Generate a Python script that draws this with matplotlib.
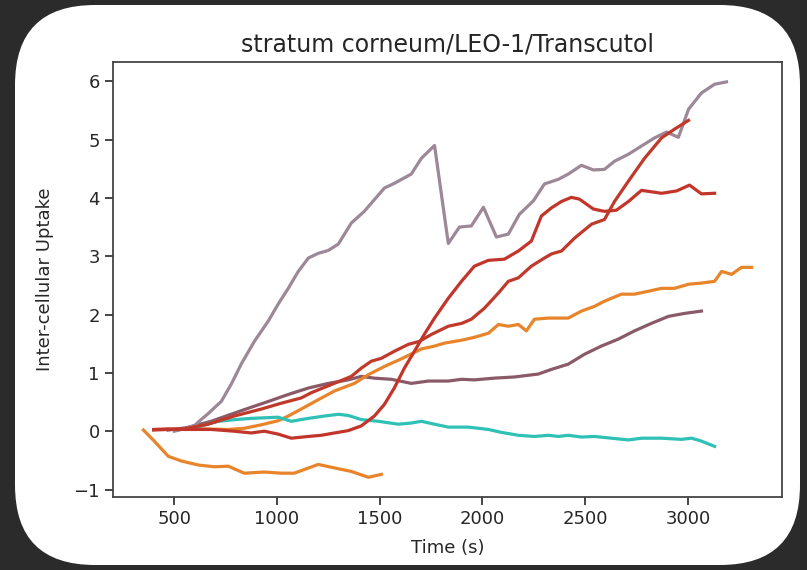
import matplotlib
matplotlib.use("Agg")
import matplotlib.pyplot as plt
from matplotlib.patches import FancyBboxPatch

# uptake curves, time in seconds
mauve_t = [500, 560, 600, 631, 665, 695, 729, 778, 826, 890, 958, 1006, 1055, 1104, 1153, 1201,
           1250, 1299, 1362, 1425, 1523, 1571, 1654, 1703, 1767, 1834, 1888, 1946, 2005, 2068,
           2126, 2180, 2248, 2302, 2370, 2418, 2482, 2540, 2594, 2643, 2711, 2774, 2838, 2896,
           2954, 3003, 3066, 3130, 3188]
mauve_v = [0.0, 0.05, 0.1, 0.2, 0.3, 0.4, 0.51, 0.81, 1.15, 1.54, 1.89, 2.18, 2.45, 2.74, 2.97,
           3.05, 3.1, 3.21, 3.57, 3.77, 4.17, 4.25, 4.41, 4.68, 4.9, 3.22, 3.5, 3.52, 3.84, 3.33,
           3.38, 3.72, 3.95, 4.24, 4.32, 4.41, 4.56, 4.48, 4.49, 4.63, 4.75, 4.89, 5.03, 5.13,
           5.04, 5.52, 5.8, 5.95, 5.99]

redA_t = [400, 470, 549, 665, 792, 924, 1021, 1118, 1167, 1265, 1362, 1410, 1459, 1508, 1571,
          1640, 1693, 1752, 1834, 1900, 1946, 2010, 2078, 2126, 2175, 2238, 2302, 2336, 2385,
          2448, 2531, 2594, 2643, 2711, 2789, 2872, 2935, 3003]
redA_v = [0.02, 0.03, 0.04, 0.12, 0.26, 0.38, 0.48, 0.57, 0.66, 0.8, 0.94, 1.08, 1.2, 1.25, 1.37,
          1.49, 1.54, 1.66, 1.8, 1.85, 1.92, 2.11, 2.37, 2.57, 2.63, 2.83, 2.97, 3.04, 3.09,
          3.31, 3.55, 3.63, 3.94, 4.29, 4.68, 5.03, 5.18, 5.33]

redB_t = [400, 471, 550, 680, 792, 875, 939, 1006, 1070, 1153, 1216, 1280, 1347, 1410, 1474,
          1523, 1571, 1620, 1669, 1717, 1767, 1834, 1898, 1961, 2029, 2107, 2175, 2238, 2287,
          2336, 2385, 2433, 2472, 2540, 2594, 2652, 2711, 2774, 2872, 2945, 3008, 3066, 3130]
redB_v = [0.03, 0.04, 0.03, 0.03, 0.0, -0.03, 0.0, -0.05, -0.12, -0.09, -0.07, -0.03, 0.01, 0.09,
          0.26, 0.46, 0.74, 1.08, 1.37, 1.66, 1.94, 2.28, 2.57, 2.83, 2.93, 2.95, 3.09, 3.26,
          3.69, 3.83, 3.94, 4.01, 3.98, 3.81, 3.77, 3.79, 3.94, 4.13, 4.08, 4.12, 4.22, 4.07, 4.08]

orange_t = [560, 631, 763, 841, 924, 1006, 1055, 1118, 1201, 1280, 1377, 1445, 1523, 1605, 1703,
            1767, 1815, 1898, 1961, 2029, 2078, 2126, 2175, 2214, 2253, 2321, 2418, 2482, 2545,
            2594, 2677, 2740, 2808, 2872, 2935, 3003, 3066, 3130, 3164, 3213, 3261, 3310]
orange_v = [0.03, 0.04, 0.03, 0.05, 0.11, 0.18, 0.26, 0.38, 0.54, 0.69, 0.82, 0.97, 1.11, 1.24,
            1.41, 1.46, 1.51, 1.56, 1.61, 1.68, 1.83, 1.8, 1.83, 1.72, 1.92, 1.94, 1.94, 2.06,
            2.14, 2.23, 2.35, 2.35, 2.4, 2.45, 2.45, 2.52, 2.54, 2.57, 2.74, 2.69, 2.81, 2.81]

brown_t = [470, 560, 680, 760, 841, 958, 1055, 1153, 1250, 1347, 1410, 1474, 1557, 1654, 1737,
           1834, 1898, 1961, 2058, 2156, 2272, 2336, 2418, 2497, 2579, 2662, 2740, 2823, 2906,
           2984, 3066]
brown_v = [0.02, 0.06, 0.17, 0.27, 0.37, 0.51, 0.63, 0.74, 0.82, 0.88, 0.94, 0.91, 0.89, 0.82,
           0.86, 0.86, 0.89, 0.88, 0.91, 0.93, 0.98, 1.06, 1.15, 1.32, 1.46, 1.58, 1.72, 1.85,
           1.97, 2.02, 2.06]

teal_t = [560, 620, 714, 800, 875, 1006, 1070, 1153, 1231, 1299, 1347, 1410, 1493, 1591, 1654,
          1703, 1767, 1834, 1932, 2029, 2092, 2175, 2253, 2321, 2370, 2418, 2482, 2545, 2628,
          2711, 2774, 2872, 2969, 3018, 3066, 3130]
teal_v = [0.04, 0.08, 0.17, 0.2, 0.22, 0.24, 0.17, 0.22, 0.26, 0.29, 0.27, 0.2, 0.17, 0.12, 0.14,
          0.17, 0.12, 0.07, 0.07, 0.03, -0.02, -0.07, -0.09, -0.07, -0.09, -0.07, -0.1, -0.09,
          -0.12, -0.15, -0.12, -0.12, -0.14, -0.12, -0.17, -0.26]

short_t = [350, 403, 471, 534, 617, 695, 763, 841, 939, 1021, 1084, 1201, 1280, 1362, 1445, 1508]
short_v = [0.02, -0.17, -0.43, -0.51, -0.58, -0.61, -0.6, -0.72, -0.7, -0.72, -0.72, -0.57,
           -0.63, -0.69, -0.79, -0.74]

fig = plt.figure(figsize=(8.07, 5.70), dpi=100)
fig.patch.set_facecolor("#2b2b2b")

# white card behind the plot
card = FancyBboxPatch((0.15, 0.05), 7.85, 5.6, boxstyle="round,pad=0,rounding_size=0.8",
                      transform=fig.dpi_scale_trans, facecolor="white", edgecolor="none",
                      zorder=-10)
fig.patches.append(card)

ax = fig.add_axes([0.140, 0.128, 0.829, 0.763])
ax.set_zorder(1)
lw = 2.3
ax.plot(brown_t, brown_v, color="#8b5a68", lw=lw)
ax.plot(mauve_t, mauve_v, color="#9c8896", lw=lw)
ax.plot(orange_t, orange_v, color="#e8842a", lw=lw)
ax.plot(teal_t, teal_v, color="#2fc1b6", lw=lw)
ax.plot(redA_t, redA_v, color="#c0392b", lw=lw)
ax.plot(redB_t, redB_v, color="#c2352a", lw=lw)
ax.plot(short_t, short_v, color="#e8842a", lw=lw)

ax.set_title("stratum corneum/LEO-1/Transcutol", fontsize=17, color="#262626", pad=8)
ax.set_xlabel("Time (s)", fontsize=13, color="#262626", labelpad=8)
ax.set_ylabel("Inter-cellular Uptake", fontsize=13, color="#262626", labelpad=14)
ax.set_xticks([500, 1000, 1500, 2000, 2500, 3000])
ax.set_yticks([-1, 0, 1, 2, 3, 4, 5, 6])
ax.tick_params(labelsize=13, length=6, width=1.2, colors="#262626")
for s in ax.spines.values():
    s.set_color("#444444")
    s.set_linewidth(1.3)

fig.savefig("out.png", dpi=100, facecolor=fig.get_facecolor())
